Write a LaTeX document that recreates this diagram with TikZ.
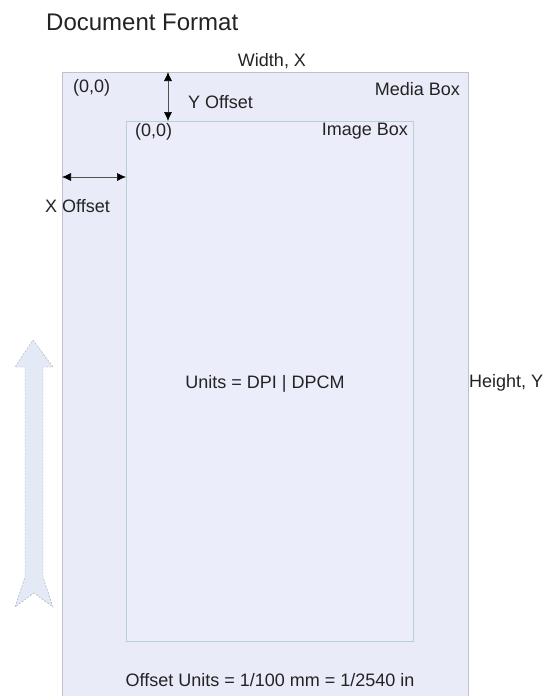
\documentclass[tikz,border=0pt]{standalone}
\usepackage{fontspec}
\setmainfont{Liberation Sans}
\usetikzlibrary{arrows.meta,calc,positioning}
\definecolor{MediaFill}{RGB}{233,236,248}
\definecolor{MediaLine}{RGB}{190,194,204}
\definecolor{ImageFill}{RGB}{236,237,251}
\definecolor{ImageLine}{RGB}{184,208,208}
\definecolor{ArrowFill}{RGB}{228,233,246}
\definecolor{ArrowLine}{RGB}{160,162,170}
\definecolor{DimLine}{RGB}{80,80,80}
\definecolor{TextGray}{RGB}{35,35,35}

\begin{document}
\begin{tikzpicture}[x=1pt,y=-1pt,>=Latex,
  lbl/.style={font=\fontsize{18}{20}\selectfont,text=TextGray,inner sep=0pt},
  dimarrow/.style={<->,DimLine,line width=0.6pt,>={Latex[length=9pt,width=8pt,black]}}]
  \useasboundingbox (0,0) rectangle (549,696);
  \node[lbl,font=\fontsize{24}{28}\selectfont,anchor=base west] (title) at (46,30) {Document Format};
  \node[draw=MediaLine,fill=MediaFill,anchor=north west,inner sep=0pt,
    minimum width=406pt,minimum height=624pt] (media) at (62,72) {};
  \node[draw=ImageLine,fill=ImageFill,anchor=north west,inner sep=0pt,
    minimum width=287pt,minimum height=520pt] (image) at (126,121) {};
  \node[lbl,anchor=base] (width) at (272,66) {Width, X};
  \node[lbl,anchor=west] (mediaorigin) at (73,88) {(0,0)};
  \node[lbl,anchor=east] (medialabel) at (460,89) {Media Box};
  \node[lbl,anchor=west] (ylabel) at (188,102) {Y Offset};
  \node[lbl,anchor=west] (imageorigin) at (135,132) {(0,0)};
  \node[lbl,anchor=east] (imagelabel) at (408,131) {Image Box};
  \node[lbl,anchor=west] (xlabel) at (45,206) {X Offset};
  \node[lbl] (units) at (265,384) {Units = DPI | DPCM};
  \node[lbl,anchor=west] (height) at (469,383) {Height, Y};
  \node[lbl] (offsetunits) at (270,680) {Offset Units = 1/100 mm = 1/2540 in};
  \coordinate (yoff) at (168,0);
  \coordinate (xoff) at (0,177);
  \draw[dimarrow] (media.north -| yoff) -- (image.north -| yoff);
  \draw[dimarrow] (media.west |- xoff) -- (image.west |- xoff);
  \draw[ArrowLine,fill=ArrowFill,dash pattern=on 2pt off 1.5pt]
    (33,340) -- (53,367) -- (43,367) -- (43,577) -- (53,607) -- (34,593)
    -- (15,607) -- (25,577) -- (25,367) -- (15,367) -- cycle;
\end{tikzpicture}
\end{document}
